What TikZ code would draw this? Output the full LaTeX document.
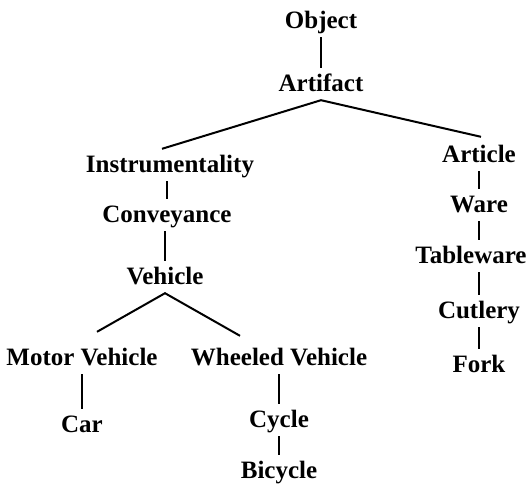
\documentclass[tikz,border=0pt]{standalone}
\usepackage{fontspec}
\setmainfont{Liberation Serif}
\usetikzlibrary{calc}
\begin{document}
\begin{tikzpicture}[x=1pt,y=-1pt,
  lbl/.style={anchor=base,inner xsep=0pt,inner ysep=4pt,text height=19pt,text depth=5pt,
    font=\fontsize{25}{29}\selectfont\bfseries},
  edge/.style={line width=2pt}]
\useasboundingbox (0,0) rectangle (530,485);
\node[lbl] (obj) at (321,28) {Object};
\node[lbl] (art) at (321,91) {Artifact};
\node[lbl] (ins) at (170,172) {Instrumentality};
\node[lbl] (con) at (167,222) {Conveyance};
\node[lbl] (veh) at (165,284) {Vehicle};
\node[lbl] (mv) at (82,365) {Motor Vehicle};
\node[lbl] (wv) at (279,365) {Wheeled Vehicle};
\node[lbl] (car) at (82,432) {Car};
\node[lbl] (cyc) at (279,427) {Cycle};
\node[lbl] (bic) at (279,478) {Bicycle};
\node[lbl] (arti) at (479,162) {Article};
\node[lbl] (ware) at (479,212) {Ware};
\node[lbl] (tab) at (471,263) {Tableware};
\node[lbl] (cut) at (479,318) {Cutlery};
\node[lbl] (fork) at (479,372) {Fork};
\draw[edge] (obj.south) -- (art.north);
\draw[edge] ($(ins.north)+(-8,0)$) -- (art.south) -- ($(arti.north)+(2,-2)$);
\draw[edge] (con.north |- ins.south) -- (con.north);
\draw[edge] (veh.north |- con.south) -- (veh.north);
\draw[edge] ($(mv.north)+(15,-10)$) -- (veh.south) -- ($(wv.north)+(-39,-6)$);
\draw[edge] (mv.south) -- (car.north);
\draw[edge] (wv.south) -- (cyc.north);
\draw[edge] (cyc.south) -- (bic.north);
\draw[edge] (arti.south) -- (ware.north);
\draw[edge] (ware.south) -- (ware.south |- tab.north);
\draw[edge] (cut.north |- tab.south) -- (cut.north);
\draw[edge] (cut.south) -- (fork.north);
\end{tikzpicture}
\end{document}
